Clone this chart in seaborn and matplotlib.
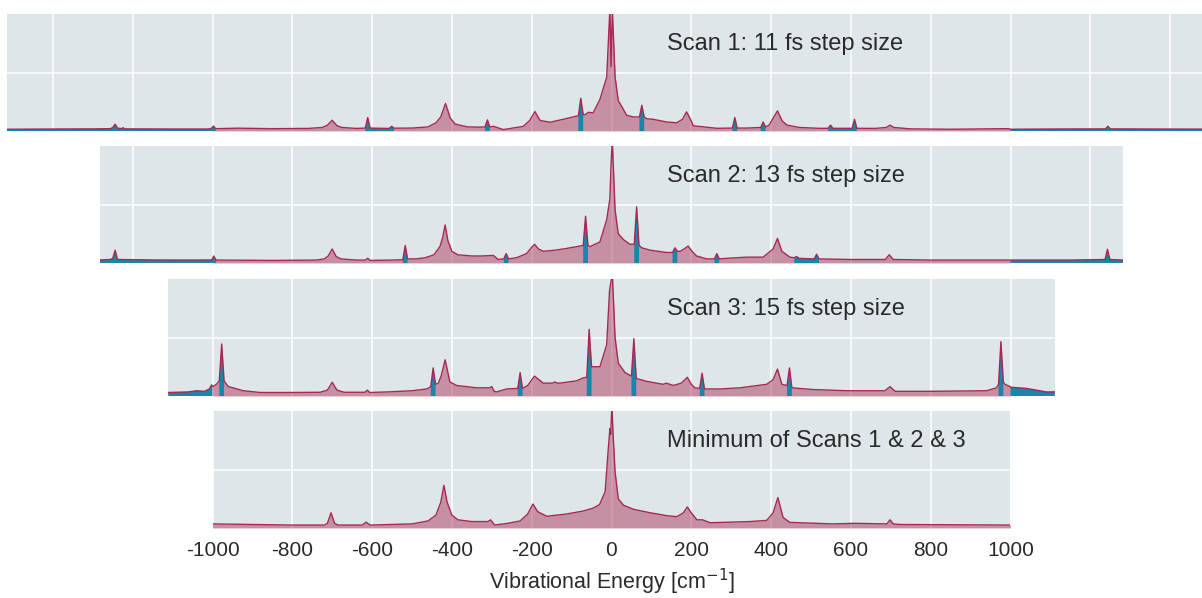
import numpy as np
import pandas as pd
import seaborn as sns
import matplotlib.pyplot as plt

# -- Spectra (x in cm^-1, y as fraction of panel height)

# Scan 1: 11 fs step
scan1_x = [-1516, -1400, -1300, -1256, -1250, -1244, -1238, -1228, -1224, -1220,
           -1100, -1010, -1004, -1000, -998, -992, -936, -850, -760, -725,
           -712, -700, -688, -675, -640, -617, -611, -605, -557, -551,
           -545, -500, -460, -440, -428, -416, -404, -392, -381, -360,
           -330, -317, -311, -305, -296, -271, -221, -205, -192, -179,
           -154, -121, -96, -83, -77, -71, -66, -58, -46, -29,
           -12, -4, -1, 2, 9, 17, 38, 54, 70, 76,
           82, 88, 104, 138, 163, 178, 188, 198, 205, 264,
           303, 309, 315, 339, 374, 380, 386, 395, 405, 416,
           428, 440, 472, 520, 543, 549, 555, 603, 609, 615,
           660, 688, 698, 708, 750, 850, 994, 1000, 1100, 1238,
           1244, 1250, 1350, 1516]
scan1_y = [0.015, 0.017, 0.018, 0.02, 0.03, 0.058, 0.025, 0.02, 0.028, 0.018,
           0.017, 0.017, 0.022, 0.03, 0.043, 0.02, 0.024, 0.02, 0.022, 0.03,
           0.05, 0.092, 0.045, 0.03, 0.022, 0.025, 0.115, 0.025, 0.022, 0.04,
           0.024, 0.025, 0.035, 0.07, 0.12, 0.235, 0.11, 0.06, 0.05, 0.035,
           0.033, 0.035, 0.095, 0.035, 0.04, 0.012, 0.04, 0.09, 0.166, 0.09,
           0.075, 0.1, 0.12, 0.13, 0.28, 0.14, 0.14, 0.16, 0.155, 0.27,
           0.46, 1.05, 0.55, 1.05, 0.46, 0.26, 0.135, 0.12, 0.12, 0.22,
           0.12, 0.105, 0.1, 0.077, 0.07, 0.1, 0.164, 0.1, 0.045, 0.023,
           0.025, 0.115, 0.025, 0.025, 0.03, 0.077, 0.035, 0.05, 0.11, 0.172,
           0.085, 0.05, 0.03, 0.023, 0.023, 0.05, 0.023, 0.023, 0.1, 0.023,
           0.022, 0.03, 0.05, 0.03, 0.018, 0.015, 0.02, 0.015, 0.017, 0.018,
           0.04, 0.018, 0.017, 0.016]
scan1_blue = [-1244, -998, -611, -551, -311, -77, 76, 309, 380, 549, 609, 1244]

# Scan 2: 13 fs step
scan2_x = [-1282, -1256, -1250, -1244, -1238, -1150, -1050, -1003, -1000, -997,
           -991, -850, -740, -720, -710, -700, -690, -678, -640, -617,
           -611, -605, -550, -523, -517, -511, -490, -467, -445, -430,
           -423, -417, -410, -400, -385, -350, -325, -296, -284, -270,
           -264, -258, -238, -213, -201, -193, -183, -171, -140, -112,
           -79, -71, -65, -59, -54, -29, -12, -4, -1, 2,
           9, 17, 30, 46, 57, 63, 69, 76, 96, 138,
           153, 159, 165, 172, 182, 192, 202, 213, 239, 258,
           264, 270, 289, 339, 380, 405, 416, 427, 447, 458,
           464, 470, 508, 514, 520, 600, 686, 696, 706, 800,
           1000, 1150, 1237, 1243, 1249, 1282]
scan2_y = [0.026, 0.03, 0.04, 0.11, 0.03, 0.026, 0.025, 0.026, 0.035, 0.06,
           0.025, 0.022, 0.025, 0.035, 0.06, 0.12, 0.055, 0.035, 0.025, 0.025,
           0.04, 0.022, 0.025, 0.028, 0.15, 0.035, 0.035, 0.045, 0.07, 0.14,
           0.22, 0.325, 0.19, 0.1, 0.07, 0.06, 0.06, 0.065, 0.03, 0.035,
           0.08, 0.035, 0.045, 0.08, 0.13, 0.16, 0.12, 0.1, 0.11, 0.125,
           0.145, 0.15, 0.4, 0.15, 0.14, 0.18, 0.37, 0.55, 0.85, 1.05,
           0.45, 0.25, 0.2, 0.16, 0.16, 0.48, 0.15, 0.13, 0.11, 0.09,
           0.09, 0.13, 0.1, 0.1, 0.12, 0.145, 0.1, 0.06, 0.035, 0.035,
           0.08, 0.035, 0.04, 0.05, 0.05, 0.12, 0.21, 0.1, 0.05, 0.045,
           0.055, 0.04, 0.035, 0.075, 0.035, 0.03, 0.03, 0.07, 0.03, 0.025,
           0.025, 0.025, 0.03, 0.117, 0.03, 0.025]
scan2_blue = [-1244, -997, -517, -264, -65, 63, 159, 264, 464, 514, 1243]

# Scan 3: 15 fs step
scan3_x = [-1111, -1060, -1040, -1020, -1008, -1002, -1000, -990, -983, -977,
           -971, -965, -960, -949, -923, -880, -800, -730, -712, -700,
           -688, -670, -618, -612, -606, -560, -500, -463, -453, -447,
           -441, -434, -427, -417, -405, -388, -338, -306, -300, -294,
           -288, -263, -235, -229, -223, -210, -193, -171, -148, -142,
           -136, -129, -87, -71, -62, -56, -50, -29, -12, -5,
           2, 9, 17, 34, 50, 56, 62, 88, 130, 137,
           155, 175, 190, 200, 209, 221, 227, 233, 272, 322,
           389, 405, 416, 427, 440, 446, 452, 506, 590, 685,
           698, 711, 800, 940, 955, 965, 970, 976, 982, 986,
           999, 1000, 1040, 1090, 1111]
scan3_y = [0.03, 0.035, 0.045, 0.04, 0.06, 0.095, 0.08, 0.1, 0.13, 0.445,
           0.13, 0.1, 0.08, 0.07, 0.045, 0.03, 0.03, 0.032, 0.05, 0.117,
           0.05, 0.032, 0.032, 0.05, 0.03, 0.035, 0.045, 0.06, 0.08, 0.24,
           0.1, 0.11, 0.17, 0.31, 0.12, 0.09, 0.07, 0.07, 0.08, 0.04,
           0.035, 0.06, 0.065, 0.2, 0.065, 0.09, 0.17, 0.11, 0.11, 0.12,
           0.11, 0.11, 0.13, 0.155, 0.16, 0.57, 0.25, 0.25, 0.44, 0.9,
           1.05, 0.5, 0.28, 0.2, 0.17, 0.49, 0.15, 0.125, 0.1, 0.11,
           0.09, 0.11, 0.16, 0.1, 0.07, 0.065, 0.195, 0.06, 0.06, 0.07,
           0.1, 0.14, 0.23, 0.1, 0.09, 0.24, 0.07, 0.055, 0.045, 0.045,
           0.08, 0.04, 0.04, 0.045, 0.06, 0.07, 0.1, 0.465, 0.12, 0.1,
           0.08, 0.075, 0.065, 0.035, 0.035]
scan3_blue = [-977, -447, -229, -56, 56, 227, 446, 976]

# Minimum of the three scans
min_x = [-1000, -900, -800, -720, -712, -703, -694, -685, -625, -615,
         -605, -500, -460, -440, -428, -420, -412, -400, -385, -350,
         -310, -303, -293, -260, -229, -210, -197, -185, -162, -112,
         -71, -46, -30, -16, -8, -4, -2, 1, 4, 9,
         17, 30, 55, 97, 139, 164, 180, 190, 200, 214,
         228, 247, 297, 347, 389, 405, 417, 430, 447, 555,
         610, 690, 698, 706, 723, 1000]
min_y = [0.035, 0.03, 0.025, 0.025, 0.04, 0.13, 0.04, 0.025, 0.025, 0.05,
         0.025, 0.035, 0.06, 0.11, 0.22, 0.365, 0.22, 0.11, 0.07, 0.055,
         0.055, 0.07, 0.025, 0.04, 0.06, 0.12, 0.205, 0.14, 0.1, 0.12,
         0.145, 0.17, 0.2, 0.31, 0.68, 0.85, 0.8, 1.05, 0.8, 0.48,
         0.25, 0.195, 0.16, 0.13, 0.105, 0.097, 0.13, 0.18, 0.13, 0.07,
         0.07, 0.045, 0.05, 0.055, 0.065, 0.13, 0.26, 0.09, 0.048, 0.035,
         0.04, 0.035, 0.07, 0.035, 0.03, 0.025]

titles = ["Scan 1: 11 fs step size", "Scan 2: 13 fs step size",
          "Scan 3: 15 fs step size", "Minimum of Scans 1 & 2 & 3"]
half_range = [1516, 1282, 1111, 1000]   # Nyquist limit of each scan
tick_values = list(range(-1000, 1001, 200))

panels = [(scan1_x, scan1_y, scan1_blue), (scan2_x, scan2_y, scan2_blue),
          (scan3_x, scan3_y, scan3_blue), (min_x, min_y, [])]

red = "#a82850"
blue = "#1886ab"

sns.set_theme(style="darkgrid", rc={"axes.facecolor": "#dfe6e9",
                                    "grid.color": "white",
                                    "grid.linewidth": 1.1})
plt.rcParams["font.family"] = ["Liberation Sans", "DejaVu Sans"]

W, H = 1202, 598
fig = plt.figure(figsize=(W / 100, H / 100), dpi=100)

# shared x scale: pixels per cm^-1 and pixel of zero
scale = 0.399
zero_px = 611.5
tops = [14, 146, 279, 411]
ph = 117

for i, (xs, ys, bl) in enumerate(panels):
    n = half_range[i]
    left = (zero_px - n * scale) / W
    ax = fig.add_axes([left, 1 - (tops[i] + ph) / H, 2 * n * scale / W, ph / H])
    x = np.array(xs, dtype=float)
    y = np.array(ys, dtype=float)

    inner = np.abs(x) <= 1000
    ax.fill_between(x, y, where=inner, color=red, alpha=0.45, lw=0, zorder=1)
    if i < 3:
        outer = np.abs(x) >= 1000
        ax.fill_between(x, y, where=outer, color=blue, lw=0, zorder=2)
        spikes = np.any(np.abs(x[:, None] - np.array(bl)[None, :]) <= 6, axis=1)
        ax.fill_between(x, y, where=spikes, color=blue, lw=0, zorder=2)

    sns.lineplot(x=x, y=y, ax=ax, color=red, linewidth=1.0, zorder=3)

    if i < 3:
        ax.set_xticks(range(-1400, 1401, 200))
        ax.set_xticklabels([])
        ax.set_xlabel("")
    else:
        ax.set_xticks(tick_values)
        ax.set_xticklabels([str(t) for t in tick_values], fontsize=15, color="#2a2a2a")
        ax.tick_params(axis="x", pad=9)
        ax.set_xlabel("Vibrational Energy [cm$^{-1}$]", fontsize=15.5,
                      color="#2a2a2a", labelpad=5)
    ax.set_xlim(-n, n)
    ax.set_ylim(0, 1)
    ax.set_yticks([0.5])
    ax.tick_params(length=0)
    ax.set_yticklabels([])
    ax.set_ylabel("")
    ax.text(139, 0.695, titles[i], fontsize=17, color="#2a2a2a",
            ha="left", va="baseline", zorder=4)
    for s in ax.spines.values():
        s.set_visible(False)

fig.savefig("out.png", dpi=100)
